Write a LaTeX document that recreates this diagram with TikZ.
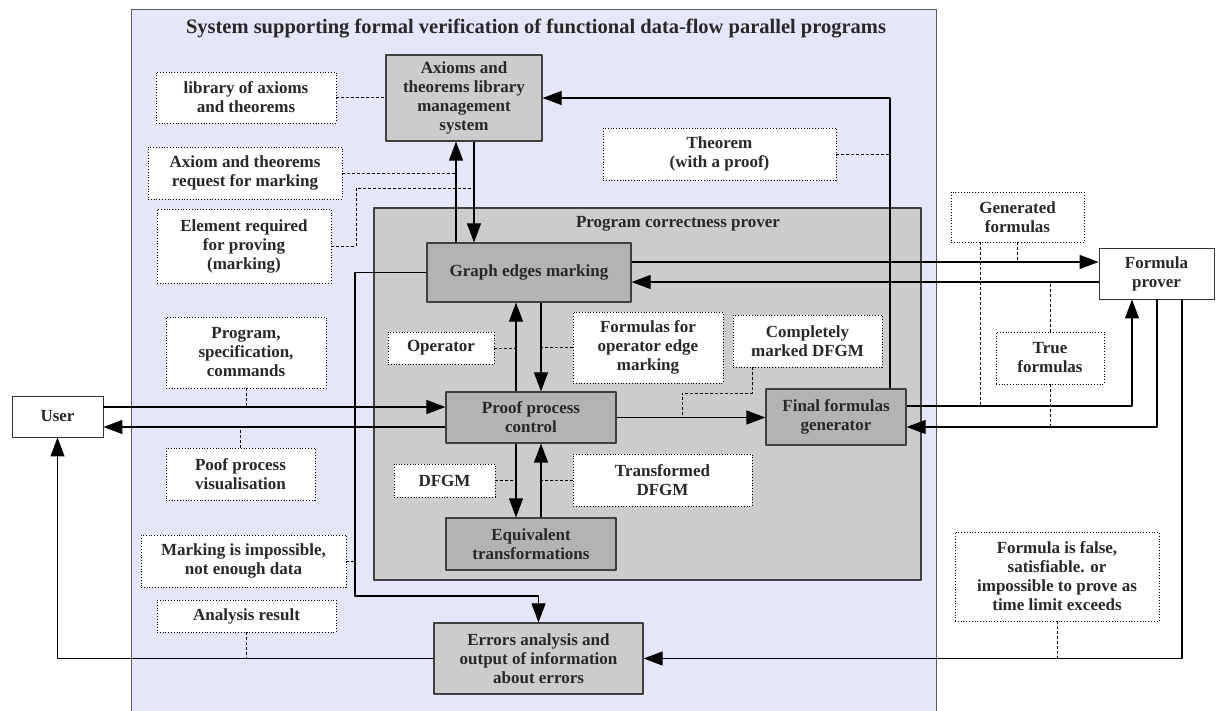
\documentclass[tikz,border=0pt]{standalone}
\usepackage{fontspec}
\setmainfont{Liberation Serif}
\usetikzlibrary{arrows.meta}
\definecolor{syslav}{RGB}{230,230,250}
\definecolor{provergray}{RGB}{204,204,204}
\definecolor{stepgray}{RGB}{179,179,179}
\definecolor{inktext}{RGB}{40,40,40}
\tikzset{
  wh/.style 2 args={minimum width=#1pt, minimum height=#2pt},
  procbox/.style={draw=black!75, line width=1.2pt, fill=stepgray},
  mgrbox/.style={draw=black!75, line width=1.2pt, fill=provergray},
  notebox/.style={draw=black, dotted, line width=0.8pt, fill=white},
  outerbox/.style={draw=black!80, line width=0.9pt, fill=white},
  flow/.style={draw, line width=1.1pt, ->},
  link/.style={draw, line width=0.8pt, dash pattern=on 3pt off 2pt},
}
\begin{document}
\begin{tikzpicture}[x=1pt, y=-1pt, line join=round, >={Triangle[length=19pt,width=14pt]},
  every node/.style={font=\bfseries\fontsize{17}{19}\selectfont, text=inktext, align=center, inner sep=0pt}]
\useasboundingbox (0,0) rectangle (1217,711);
% system frame
\draw[fill=syslav, draw=black!65, line width=1pt] (131,10) rectangle (936,720);
\node[font=\bfseries\fontsize{20.5}{24}\selectfont] (systitle) at (536,29) {System supporting formal verification of functional data-flow parallel programs};
% prover frame
\draw[fill=provergray, draw=black!75, line width=1.2pt] (374,208) rectangle (921,580);
\node (provertitle) at (678,224) {Program correctness prover};

% lanes
\coordinate (upL) at (456,0);
\coordinate (dnL) at (474,0);
\coordinate (thmL) at (890,0);
\coordinate (vU) at (516,0);
\coordinate (vD) at (541,0);
\coordinate (p1) at (1132,0);
\coordinate (p2) at (1157,0);
\coordinate (p3) at (1182,0);
\coordinate (gx) at (980,0);
\coordinate (mx) at (752,0);
\coordinate (g1) at (0,262);
\coordinate (g2) at (0,282);
\coordinate (u1) at (0,407);
\coordinate (u2) at (0,427);
\coordinate (f1) at (0,406);
\coordinate (f2) at (0,427);
\coordinate (errturn) at (355,596);
\coordinate (elemturn) at (356,188);
\coordinate (markturn) at (682,393);

% blocks
\node[mgrbox, wh={156}{86}] (axlib) at (464,98) {Axioms and\\theorems library\\management\\system};
\node[notebox, wh={180}{51}] (libax) at (246,97.5) {library of axioms\\and theorems};
\node[notebox, wh={194}{52}] (req) at (245,173) {Axiom and theorems\\request for marking};
\node[notebox, wh={174}{74}] (elem) at (244,246) {Element required\\for proving\\(marking)};
\node[notebox, wh={233}{52}] (thm) at (719.5,154) {Theorem\\(with a proof)};
\node[procbox, wh={204}{59}] (graph) at (529,272.5) {Graph edges marking};
\node[notebox, wh={133}{50}] (genf) at (1017.5,217) {Generated\\formulas};
\node[outerbox, wh={115}{51}] (fprover) at (1156.5,273.5) {Formula\\prover};
\node[notebox, wh={106}{32}] (oper) at (441,348) {Operator};
\node[notebox, wh={150}{71}] (opform) at (648,347.5) {Formulas for\\operator edge\\marking};
\node[notebox, wh={149}{52}] (marked) at (807.5,341) {Completely\\marked DFGM};
\node[notebox, wh={160}{71}] (input) at (246,352.5) {Program,\\specification,\\commands};
\node[outerbox, wh={91}{41}] (user) at (57.5,416.5) {User};
\node[procbox, wh={170}{51}] (proof) at (531,417.5) {Proof process\\control};
\node[procbox, wh={140}{56}] (final) at (836,417) {Final formulas\\generator};
\node[notebox, wh={108}{52}] (truef) at (1050,358) {True\\formulas};
\node[notebox, wh={149}{52}] (visual) at (240.5,474) {Poof process\\visualisation};
\node[notebox, wh={101}{33}] (dfgm) at (444.5,480.5) {DFGM};
\node[notebox, wh={179}{52}] (transf) at (662.5,480) {Transformed\\DFGM};
\node[procbox, wh={170}{52}] (equiv) at (531,544) {Equivalent\\transformations};
\node[notebox, wh={205}{52}] (nodata) at (243.5,561) {Marking is impossible,\\not enough data};
\node[notebox, wh={179}{32}] (result) at (246.5,616) {Analysis result};
\node[mgrbox, wh={209}{71}] (errors) at (538.5,658.5) {Errors analysis and\\output of information\\about errors};
\node[notebox, wh={204}{89}] (falsef) at (1057,576.5) {Formula is false,\\satisfiable. or\\impossible to prove as\\time limit exceeds};

% data flows
\draw[flow] (graph.north -| upL) -- (axlib.south -| upL);
\draw[flow] (axlib.south -| dnL) -- (graph.north -| dnL);
\draw[flow] (final.north -| thmL) |- (axlib.east);
\draw[flow] (graph.east |- g1) -- (fprover.west |- g1);
\draw[flow] (fprover.west |- g2) -- (graph.east |- g2);
\draw[flow] (user.east |- u1) -- (proof.west |- u1);
\draw[flow] (proof.west |- u2) -- (user.east |- u2);
\draw[flow] (proof.north -| vU) -- (graph.south -| vU);
\draw[flow] (graph.south -| vD) -- (proof.north -| vD);
\draw[flow] (proof.south -| vU) -- (equiv.north -| vU);
\draw[flow] (equiv.north -| vD) -- (proof.south -| vD);
\draw[flow] (proof.east) -- (final.west |- proof.east);
\draw[flow] (final.east |- f1) -| (fprover.south -| p1);
\draw[flow] (fprover.south -| p2) |- (final.east |- f2);
\draw[flow] (fprover.south -| p3) |- (errors.east);
\draw[flow] (errors.west) -| (user.south);
\draw[flow] (graph.west) -| (errturn) -| (errors.north);

% label links
\draw[link] (libax.east) -- (libax.east -| axlib.west);
\draw[link] (req.east) -- (req.east -| upL);
\draw[link] (elem.east) -| (elemturn) -- (elemturn -| dnL);
\draw[link] (thm.east) -- (thm.east -| thmL);
\draw[link] (genf.south) -- (genf.south |- g1);
\draw[link] (genf.south -| gx) -- (gx |- f1);
\draw[link] (truef.north) -- (truef.north |- g2);
\draw[link] (truef.south) -- (truef.south |- f2);
\draw[link] (oper.east) -- (oper.east -| vU);
\draw[link] (opform.west) -- (opform.west -| vD);
\draw[link] (marked.south -| mx) |- (markturn) -- (markturn |- proof.east);
\draw[link] (input.south) -- (input.south |- u1);
\draw[link] (visual.north) -- (visual.north |- u2);
\draw[link] (dfgm.east) -- (dfgm.east -| vU);
\draw[link] (transf.west) -- (transf.west -| vD);
\draw[link] (nodata.east) -- (nodata.east -| errturn);
\draw[link] (result.south) -- (result.south |- errors.west);
\draw[link] (falsef.south) -- (falsef.south |- errors.east);
\end{tikzpicture}
\end{document}
